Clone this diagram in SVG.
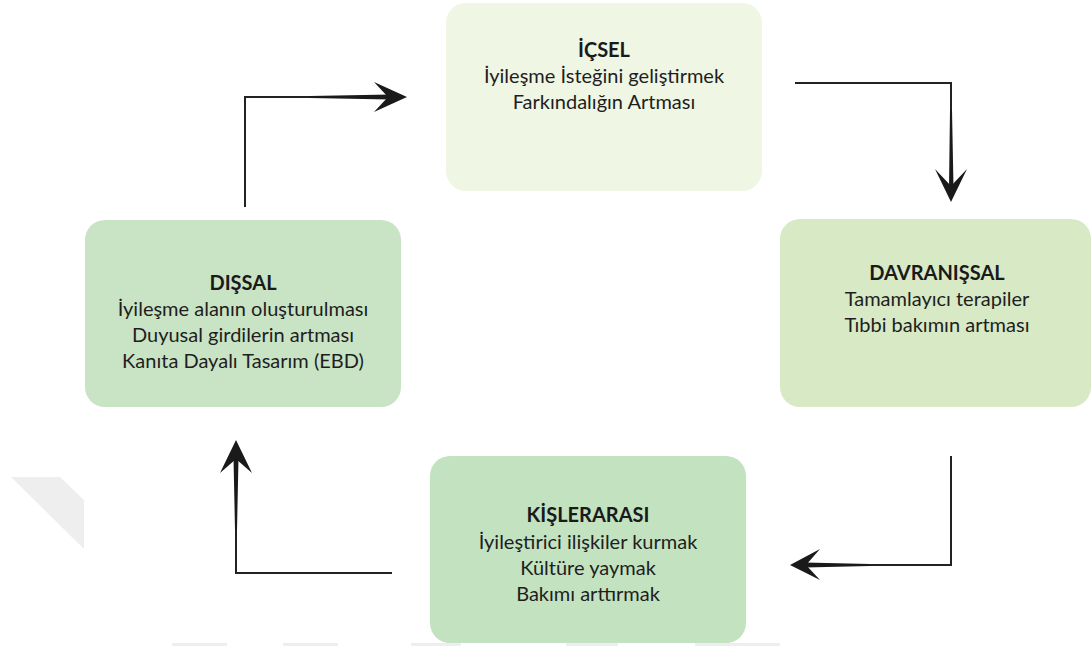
<svg xmlns="http://www.w3.org/2000/svg" width="1092" height="646" viewBox="0 0 1092 646">
<style>
.title{font-family:Lato,"Open Sans","Liberation Sans",sans-serif;font-weight:bold;font-size:20px;fill:#1a1a1a;text-anchor:middle}
.line{font-family:Lato,"Open Sans","Liberation Sans",sans-serif;font-size:20px;fill:#1e1e1e;text-anchor:middle}
.wire{fill:none;stroke:#222;stroke-width:2}
.head{fill:#1a1a1a}
.wm{fill:#eeeeee}
</style>
<rect width="1092" height="646" fill="#ffffff"/>
<g id="watermark">
<polygon class="wm" points="11,477 60,477 84,500 84,549"/>
<rect class="wm" x="172" y="643" width="55" height="3"/>
<rect class="wm" x="283" y="643" width="55" height="3"/>
<rect class="wm" x="411" y="643" width="50" height="3"/>
<rect class="wm" x="566" y="643" width="52" height="3"/>
<rect class="wm" x="695" y="643" width="85" height="3"/>
</g>
<g id="icsel">
<rect x="446" y="3" width="316" height="188" rx="20" fill="#eff6e4"/>
<text class="title" x="604" y="57">İÇSEL</text>
<text class="line" x="604" y="83">İyileşme İsteğini geliştirmek</text>
<text class="line" x="604" y="109">Farkındalığın Artması</text>
</g>
<g id="davranissal">
<rect x="780" y="219" width="311" height="188" rx="20" fill="#d8e9c5"/>
<text class="title" x="937" y="280">DAVRANIŞSAL</text>
<text class="line" x="937" y="306">Tamamlayıcı terapiler</text>
<text class="line" x="937" y="332">Tıbbi bakımın artması</text>
</g>
<g id="dissal">
<rect x="85" y="220" width="316" height="187" rx="20" fill="#c9e3c5"/>
<text class="title" x="243" y="290">DIŞSAL</text>
<text class="line" x="243" y="316">İyileşme alanın oluşturulması</text>
<text class="line" x="243" y="342">Duyusal girdilerin artması</text>
<text class="line" x="243" y="368">Kanıta Dayalı Tasarım (EBD)</text>
</g>
<g id="kislerarasi">
<rect x="430" y="456" width="316" height="187" rx="20" fill="#c3e2c0"/>
<text class="title" x="588" y="522">KİŞLERARASI</text>
<text class="line" x="588" y="549">İyileştirici ilişkiler kurmak</text>
<text class="line" x="588" y="575">Kültüre yaymak</text>
<text class="line" x="588" y="601">Bakımı arttırmak</text>
</g>
<g id="connectors">
<path class="wire" d="M245,207 V97 H390"/>
<polygon class="head" points="310,96 390,94.5 390,99.5 310,98"/>
<polygon class="head" points="407,97 374,82 388,97 374,112"/>
<path class="wire" d="M795,83 H951 V188"/>
<polygon class="head" points="950,110 949,188 953.5,188 952,110"/>
<polygon class="head" points="951,202 935,169 951,186 967,169"/>
<path class="wire" d="M951,456 V565 H805"/>
<polygon class="head" points="870,564 805,562.5 805,567.5 870,566"/>
<polygon class="head" points="790,565 820,549 806,565 820,580"/>
<path class="wire" d="M392,573 H236 V458"/>
<polygon class="head" points="235,530 233.5,458 238.5,458 237,530"/>
<polygon class="head" points="236,440 220,473 236,459 252,473"/>
</g>
</svg>
